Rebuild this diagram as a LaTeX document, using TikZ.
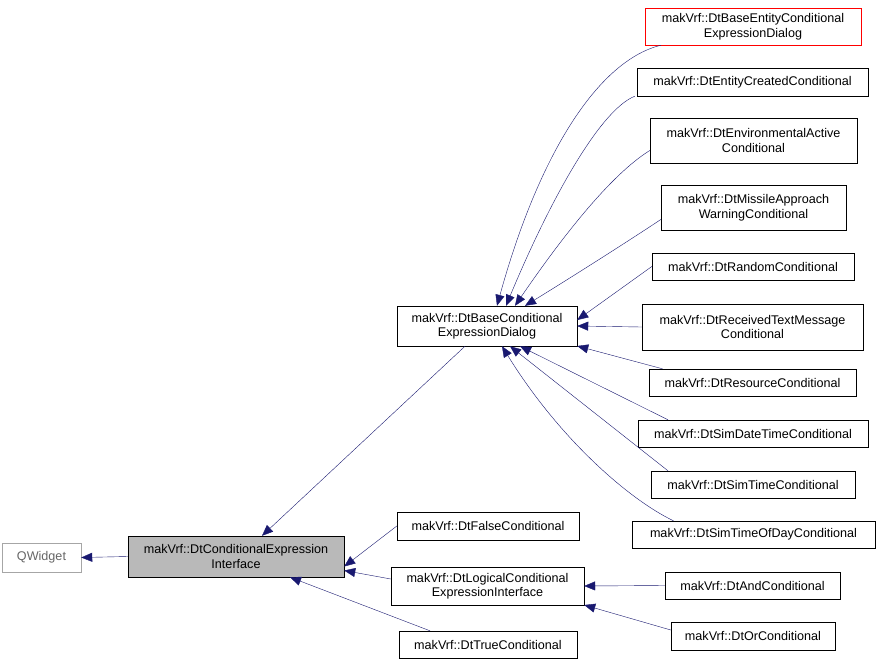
\documentclass[tikz,border=0pt]{standalone}
\usepackage{fontspec}
\setmainfont{Liberation Sans}
\usetikzlibrary{arrows.meta}
\definecolor{edge}{HTML}{191970}
\begin{document}
\begin{tikzpicture}[x=1pt,y=1pt,
 box/.style={draw=black,fill=white,inner sep=0pt,align=center,font=\fontsize{12.6}{14.5}\selectfont},
 e/.style={draw=edge,{Triangle[length=11pt,width=9pt]}-}]
\useasboundingbox (0,0) rectangle (880,-664);
\node[box,draw=gray!70,text=gray!80!black,minimum width=79,minimum height=29] (qw) at (41.5,-557.5) {QWidget};
\node[box,fill=gray!55,minimum width=216,minimum height=41] (ci) at (236,-556.5) {makVrf::DtConditionalExpression\\Interface};
\node[box,minimum width=180,minimum height=40] (base) at (487,-326) {makVrf::DtBaseConditional\\ExpressionDialog};
\node[box,minimum width=182,minimum height=28] (fa) at (488,-526) {makVrf::DtFalseConditional};
\node[box,minimum width=193,minimum height=38] (lo) at (487.5,-586) {makVrf::DtLogicalConditional\\ExpressionInterface};
\node[box,minimum width=178,minimum height=27] (tr) at (488,-644.5) {makVrf::DtTrueConditional};
\node[box,draw=red,minimum width=216,minimum height=37] (c1) at (753,-26.5) {makVrf::DtBaseEntityConditional\\ExpressionDialog};
\node[box,minimum width=231,minimum height=28] (c2) at (752.5,-82) {makVrf::DtEntityCreatedConditional};
\node[box,minimum width=207,minimum height=45] (c3) at (753.5,-140.5) {makVrf::DtEnvironmentalActive\\Conditional};
\node[box,minimum width=185,minimum height=45] (c4) at (753.5,-207.5) {makVrf::DtMissileApproach\\WarningConditional};
\node[box,minimum width=202,minimum height=27] (c5) at (753,-266.5) {makVrf::DtRandomConditional};
\node[box,minimum width=221,minimum height=46] (c6) at (752.5,-327) {makVrf::DtReceivedTextMessage\\Conditional};
\node[box,minimum width=207,minimum height=27] (c7) at (752.5,-382.5) {makVrf::DtResourceConditional};
\node[box,minimum width=230,minimum height=27] (c8) at (753,-433.5) {makVrf::DtSimDateTimeConditional};
\node[box,minimum width=204,minimum height=27] (c9) at (753,-484.5) {makVrf::DtSimTimeConditional};
\node[box,minimum width=243,minimum height=27] (c10) at (753.5,-534.5) {makVrf::DtSimTimeOfDayConditional};
\node[box,minimum width=175,minimum height=27] (an) at (752.5,-585.5) {makVrf::DtAndConditional};
\node[box,minimum width=164,minimum height=28] (or) at (753,-636) {makVrf::DtOrConditional};
\draw[e] (qw.east) -- (ci.west);
\draw[e] ([xshift=26]ci.north) -- ([xshift=-22]base.south);
\draw[e] ([yshift=-10]ci.east) -- (fa.west);
\draw[e] ([yshift=-14]ci.east) -- ([yshift=7]lo.west);
\draw[e] ([xshift=54]ci.south) -- ([xshift=-58]tr.north);
\draw[e] ([xshift=10]base.north) .. controls (540,-150) and (600,-60) .. ([xshift=-92]c1.south);
\draw[e] ([xshift=19]base.north) .. controls (550,-200) and (600,-110) .. ([xshift=-2]c2.south west);
\draw[e] ([xshift=28]base.north) .. controls (560,-240) and (610,-175) .. ([yshift=-10]c3.west);
\draw[e] ([xshift=38]base.north) .. controls (575,-275) and (630,-240) .. ([yshift=-12]c4.west);
\draw[e] ([yshift=6]base.east) -- (c5.west);
\draw[e] (base.east) -- (c6.west);
\draw[e] ([yshift=-20]base.east) -- ([xshift=-90]c7.north);
\draw[e] ([xshift=33]base.south) -- ([xshift=-85]c8.north);
\draw[e] ([xshift=23]base.south) -- ([xshift=-85]c9.north);
\draw[e] ([xshift=15]base.south) .. controls (560,-440) and (630,-500) .. ([xshift=-80]c10.north);
\draw[e] (lo.east) -- (an.west);
\draw[e] ([yshift=-19]lo.east) -- ([yshift=6]or.west);
\end{tikzpicture}
\end{document}
